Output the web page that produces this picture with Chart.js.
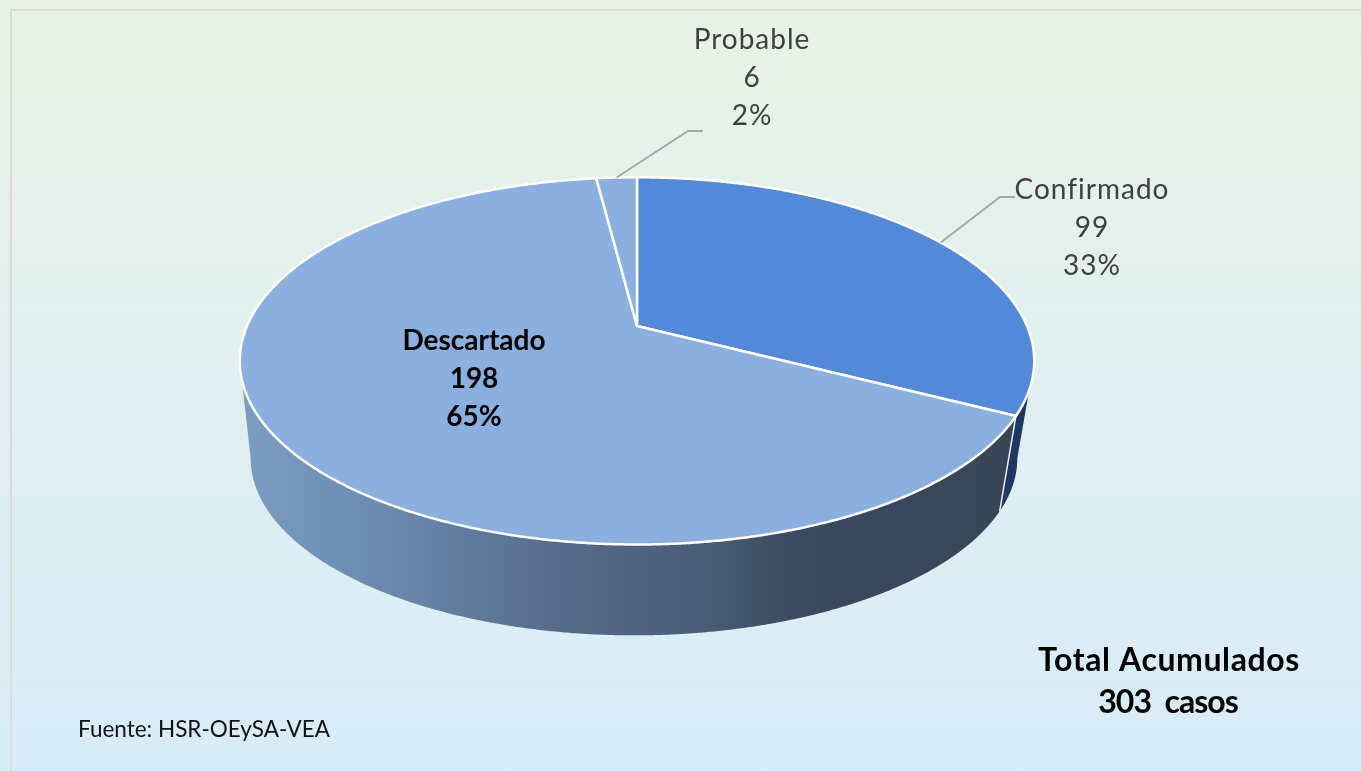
<!DOCTYPE html>
<html lang="es">
<head>
<meta charset="utf-8">
<title>Casos acumulados</title>
<script src="https://cdn.jsdelivr.net/npm/chart.js@4"></script>
<style>
  html, body { margin: 0; padding: 0; width: 1361px; height: 771px; overflow: hidden; }
  body { position: relative; background: linear-gradient(180deg, #e8f2e6 0%, #d8ecf9 100%); }
  #frame { position: absolute; left: 10px; top: 9px; right: 0; bottom: 0; border-left: 2px solid #dcdcdc; border-top: 2px solid #dcdcdc; }
  canvas { position: absolute; left: 0; top: 0; }
</style>
</head>
<body>
<div id="frame"></div>
<canvas id="pieChart" width="1361" height="771"></canvas>
<script>
const categories = ['Confirmado', 'Descartado', 'Probable'];
const casos = [99, 198, 6];
const porcentajes = ['33%', '65%', '2%'];
const totalLabel = ['Total Acumulados', '303  casos'];
const fuenteLabel = 'Fuente: HSR-OEySA-VEA';

const sliceColors = ['#5389d6', '#8bb0df', '#8bb0df'];
const wallColors = ['#1f3864', null, null];

// perspective of the tilted pie
const tilt = 0.4538;
const persp = 0.19;
const wallScale = 0.965;
const wallDrop = 98.5;
const wallShift = -3;

// where the label text goes
const labelLayout = [
  { x: 1092, y: 190, color: '#404040', font: '400 28px Lato', spacing: 1, elbow: [1000, 197, 1015, 197] },
  { x: 474, y: 341, color: '#000000', font: '700 28px Lato', spacing: 0 },
  { x: 752, y: 40, color: '#404040', font: '400 28px Lato', spacing: 1, elbow: [688, 131, 703, 131] },
];

function project(arc, angle, scale, drop, shift) {
  const w = 1 - persp * Math.sin(angle);
  return {
    x: arc.x + shift + (scale * arc.outerRadius * Math.cos(angle)) / w,
    y: arc.y + drop + (scale * arc.outerRadius * tilt * Math.sin(angle)) / w,
  };
}

function traceRim(ctx, arc, from, to, scale, drop, shift) {
  const steps = Math.max(2, Math.ceil(Math.abs(to - from) / 0.005));
  for (let i = 0; i <= steps; i++) {
    const p = project(arc, from + ((to - from) * i) / steps, scale, drop, shift);
    ctx.lineTo(p.x, p.y);
  }
}

const tiltedPie = {
  id: 'tiltedPie',
  beforeDatasetDraw(chart) {
    const ctx = chart.ctx;
    const arcs = chart.getDatasetMeta(0).data;
    const nearFrom = Math.asin(persp);
    const nearTo = Math.PI - nearFrom;

    ctx.save();
    // side wall first, the top face covers its upper edge
    arcs.forEach((arc, i) => {
      const from = Math.max(arc.startAngle, nearFrom);
      const to = Math.min(arc.endAngle, nearTo);
      if (to <= from) return;
      ctx.beginPath();
      traceRim(ctx, arc, from, to, 1, 0, 0);
      traceRim(ctx, arc, to, from, wallScale, wallDrop, wallShift);
      ctx.closePath();
      if (wallColors[i]) {
        ctx.fillStyle = wallColors[i];
      } else {
        const g = ctx.createLinearGradient(245, 0, 1010, 0);
        g.addColorStop(0, '#7c9cc4');
        g.addColorStop(0.2, '#6a87ab');
        g.addColorStop(0.41, '#566b88');
        g.addColorStop(0.6, '#4a5d76');
        g.addColorStop(0.72, '#3a4a5f');
        g.addColorStop(1, '#374557');
        ctx.fillStyle = g;
      }
      ctx.fill();
    });

    // white seam between the two visible wall pieces
    const seam = arcs[0].endAngle;
    const a = project(arcs[0], seam, 1, 0, 0);
    const b = project(arcs[0], seam, wallScale, wallDrop, wallShift);
    ctx.strokeStyle = '#e8eef4';
    ctx.lineWidth = 1.5;
    ctx.beginPath();
    ctx.moveTo(a.x, a.y);
    ctx.lineTo(b.x, b.y);
    ctx.stroke();

    // top face
    arcs.forEach((arc) => {
      ctx.beginPath();
      ctx.moveTo(arc.x, arc.y);
      traceRim(ctx, arc, arc.startAngle, arc.endAngle, 1, 0, 0);
      ctx.closePath();
      ctx.fillStyle = arc.options.backgroundColor;
      ctx.fill();
      ctx.strokeStyle = arc.options.borderColor;
      ctx.lineWidth = arc.options.borderWidth;
      ctx.lineJoin = 'round';
      ctx.stroke();
    });
    ctx.restore();
    return false;
  },
  afterDraw(chart) {
    const ctx = chart.ctx;
    const arcs = chart.getDatasetMeta(0).data;
    ctx.save();
    ctx.textAlign = 'center';
    ctx.textBaseline = 'middle';

    labelLayout.forEach((l, i) => {
      if (l.elbow) {
        const arc = arcs[i];
        const start = project(arc, (arc.startAngle + arc.endAngle) / 2, 1, 0, 0);
        ctx.strokeStyle = '#a6a6a6';
        ctx.lineWidth = 2;
        ctx.beginPath();
        ctx.moveTo(start.x, start.y);
        ctx.lineTo(l.elbow[0], l.elbow[1]);
        ctx.lineTo(l.elbow[2], l.elbow[3]);
        ctx.stroke();
      }
      ctx.font = l.font;
      ctx.fillStyle = l.color;
      ctx.letterSpacing = l.spacing + 'px';
      [categories[i], String(casos[i]), porcentajes[i]].forEach((t, j) => {
        ctx.fillText(t, l.x, l.y + j * 38);
      });
    });

    ctx.fillStyle = '#000000';
    ctx.font = '700 32px Lato';
    ctx.letterSpacing = '0.6px';
    ctx.fillText(totalLabel[0], 1169, 661);
    ctx.letterSpacing = '-1px';
    ctx.fillText(totalLabel[1], 1168, 703);

    ctx.textAlign = 'left';
    ctx.fillStyle = '#111111';
    ctx.font = '400 22.5px Lato';
    ctx.letterSpacing = '0px';
    ctx.fillText(fuenteLabel, 78, 730);
    ctx.restore();
  },
};

new Chart(document.getElementById('pieChart'), {
  type: 'pie',
  data: {
    labels: categories,
    datasets: [
      {
        data: casos,
        backgroundColor: sliceColors,
        borderColor: '#ffffff',
        borderWidth: 2.5,
        hoverOffset: 0,
      },
    ],
  },
  options: {
    responsive: false,
    animation: false,
    radius: 390,
    rotation: 0,
    layout: { padding: { right: 87, bottom: 119 } },
    plugins: {
      legend: { display: false },
      tooltip: { enabled: false },
    },
  },
  plugins: [tiltedPie],
});
</script>
</body>
</html>
